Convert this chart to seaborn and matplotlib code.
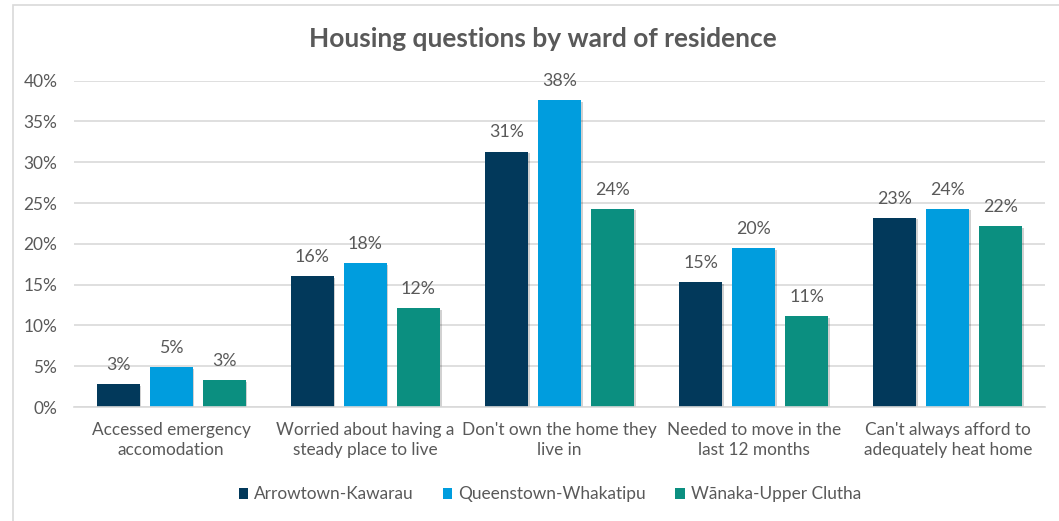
import matplotlib
matplotlib.use("Agg")
import matplotlib.pyplot as plt
import matplotlib.patheffects as pe
from matplotlib.patches import Rectangle
from matplotlib.ticker import FuncFormatter
import pandas as pd
import seaborn as sns

# Survey results (% of respondents) per question and ward
questions = [
    "Accessed emergency\naccomodation",
    "Worried about having a\nsteady place to live",
    "Don't own the home they\nlive in",
    "Needed to move in the\nlast 12 months",
    "Can't always afford to\nadequately heat home",
]
wards = ["Arrowtown-Kawarau", "Queenstown-Whakatipu", "Wānaka-Upper Clutha"]
arrowtown = [2.8, 16.0, 31.3, 15.3, 23.2]
queenstown = [4.9, 17.6, 37.6, 19.5, 24.3]
wanaka = [3.3, 12.1, 24.3, 11.1, 22.2]
y_ticks = [0, 5, 10, 15, 20, 25, 30, 35, 40]
colors = ["#02395B", "#009DDE", "#0B8F80"]

df = pd.DataFrame({
    "question": questions * 3,
    "ward": [w for w in wards for _ in questions],
    "pct": arrowtown + queenstown + wanaka,
})

sns.set_theme(style="white")
plt.rcParams["font.family"] = ["Lato", "DejaVu Sans"]
text_color = "#595959"
grid_color = "#D9D9D9"
fs = 12.4

fig = plt.figure(figsize=(10.59, 5.21), dpi=100)
ax = fig.add_axes([74 / 1059, 1 - 407 / 521, (1045 - 74) / 1059, (407 - 80.6) / 521])

sns.barplot(data=df, x="question", y="pct", hue="ward", palette=colors,
            width=0.82, gap=0.19, ax=ax, saturation=1, legend=True,
            edgecolor="none")

shadow = [pe.SimplePatchShadow(offset=(1.2, -1.2), alpha=0.18, shadow_rgbFace="#000000"),
          pe.Normal()]
for container in ax.containers:
    for bar in container:
        bar.set_path_effects(shadow)
    ax.bar_label(container, fmt="%.0f%%", padding=8, fontsize=12.8, color=text_color)

ax.set_ylim(0, 40)
ax.set_xlim(-0.5, len(questions) - 0.5)
ax.set_yticks(y_ticks)
ax.yaxis.set_major_formatter(FuncFormatter(lambda v, _: f"{v:.0f}%"))
ax.grid(axis="y", color=grid_color, linewidth=1.2)
ax.set_axisbelow(True)
for side in ["top", "right", "left"]:
    ax.spines[side].set_visible(False)
ax.spines["bottom"].set_color(grid_color)
ax.spines["bottom"].set_linewidth(1.2)
ax.tick_params(axis="both", length=0, colors=text_color, labelsize=fs)
ax.tick_params(axis="y", pad=12)
ax.tick_params(axis="x", pad=11)
for lbl in ax.get_xticklabels():
    lbl.set_linespacing(1.3)
ax.set_xlabel("")
ax.set_ylabel("")

ax.legend(loc="center", bbox_to_anchor=(0.49, -0.268), ncol=3, frameon=False,
          fontsize=fs, labelcolor=text_color, handlelength=0.55, handleheight=0.55,
          handletextpad=0.35, columnspacing=1.7)

fig.suptitle("Housing questions by ward of residence", x=543 / 1059, y=1 - 39 / 521,
             va="center", fontsize=19, fontweight="bold", color=text_color)

# Chart area border
fig.patches.append(Rectangle((13 / 1059, -0.05), 1.1, 1 - 5 / 521 + 0.05,
                             transform=fig.transFigure, fill=False,
                             edgecolor=grid_color, linewidth=1.2))

fig.savefig("out.png", dpi=100, facecolor="white")
